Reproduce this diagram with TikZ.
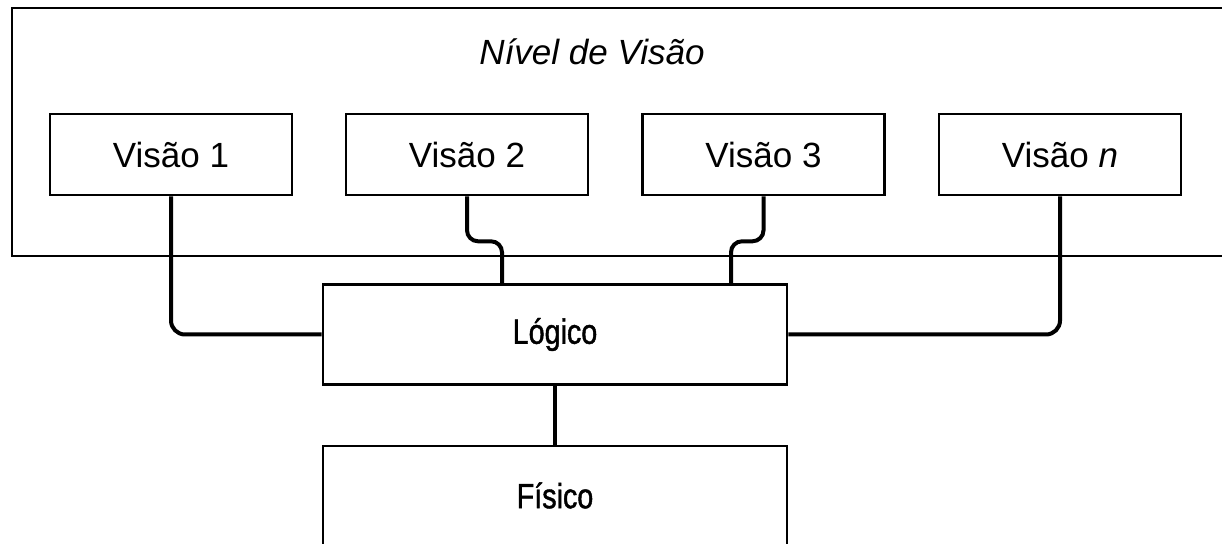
\documentclass[tikz,border=0pt]{standalone}
\usepackage{fontspec}
\setmainfont{Liberation Sans}
\newfontfamily\narrowfont[FakeStretch=0.82,FakeBold=1.2]{Liberation Sans}
\usetikzlibrary{positioning}

\tikzset{
  viewbox/.style={draw, rectangle, line width=2.6pt, minimum width=242pt, minimum height=81pt, inner sep=0pt, font=\fontsize{35}{42}\selectfont},
  levelbox/.style={draw, rectangle, line width=2.6pt, minimum width=464pt, minimum height=100pt, inner sep=0pt, font=\narrowfont\fontsize{35}{42}\selectfont},
  link/.style={line width=4pt}
}

\begin{document}
\begin{tikzpicture}[x=1pt, y=1pt]
				\useasboundingbox (0,0) rectangle (1222,543);
				\clip (0,0) rectangle (1222,543);
				\fill[white] (0,0) rectangle (1222,543);

				% View level frame
				\draw[line width=2.4pt] (12,535) rectangle (1240,287);
				\node[font=\itshape\fontsize{35}{42}\selectfont] (title) at (592,491) {Nível de Visão};

				% Views
				\node[viewbox] (v1) at (171,388.5) {Visão 1};
				\node[viewbox] (v2) at (467,388.5) {Visão 2};
				\node[viewbox] (v3) at (763.5,388.5) {Visão 3};
				\node[viewbox] (vn) at (1060,388.5) {Visão \textit{n}};

				% Logical and physical levels
				\node[levelbox] (logico) at (555,208.5) {Lógico};
				\node[levelbox, minimum height=99pt] (fisico) at (555,47.5) {Físico};

				% Join points on top of the logical box
				\coordinate (j2) at ([xshift=-53pt]logico.north);
				\coordinate (j3) at ([xshift=176pt]logico.north);

				% Links
				\draw[link, rounded corners=14pt] (v1.south) |- (logico.west);
				\draw[link, rounded corners=11pt] (v2.south) -- ++(0,-45) -| (j2);
				\draw[link, rounded corners=11pt] (v3.south) -- ++(0,-45) -| (j3);
				\draw[link, rounded corners=14pt] (vn.south) |- (logico.east);
				\draw[link] (logico.south) -- (fisico.north);
			\end{tikzpicture}
\end{document}
